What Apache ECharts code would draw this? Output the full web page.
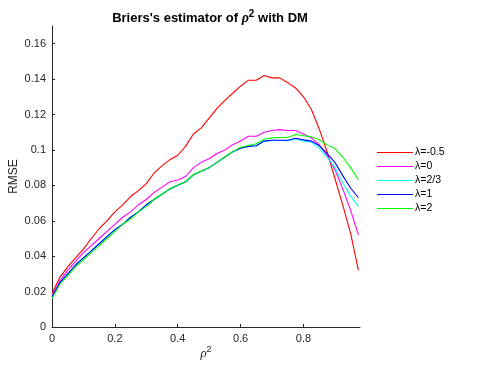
<!DOCTYPE html>
<html>
<head>
<meta charset="utf-8">
<script src="https://cdn.jsdelivr.net/npm/echarts@6/dist/echarts.min.js"></script>
<style>html,body{margin:0;padding:0;background:#fff}#c{width:488px;height:367px}</style>
</head>
<body>
<div id="c"></div>
<script>
var xValues = [0,0.025,0.05,0.075,0.1,0.125,0.15,0.175,0.2,0.225,0.25,0.275,0.3,0.325,0.35,0.375,0.4,0.425,0.45,0.475,0.5,0.525,0.55,0.575,0.6,0.625,0.65,0.675,0.7,0.725,0.75,0.775,0.8,0.825,0.85,0.875,0.9,0.925,0.95,0.975];
var seriesNames = ['λ=-0.5','λ=0','λ=2/3','λ=1','λ=2'];
var seriesColors = ['#ff0000','#ff00ff','#00ffff','#0000ff','#00ff00'];
var redVals = [0.019,0.028,0.034,0.039,0.044,0.050,0.0555,0.060,0.065,0.069,0.0737,0.077,0.081,0.087,0.091,0.0945,0.097,0.102,0.109,0.1125,0.118,0.1235,0.128,0.132,0.136,0.1394,0.1394,0.142,0.1407,0.1407,0.138,0.135,0.130,0.123,0.112,0.099,0.084,0.069,0.053,0.032];
var magentaVals = [0.018,0.026,0.032,0.037,0.042,0.046,0.050,0.054,0.058,0.062,0.065,0.069,0.072,0.076,0.079,0.082,0.083,0.085,0.090,0.093,0.095,0.098,0.100,0.103,0.105,0.1077,0.1077,0.110,0.111,0.1115,0.111,0.111,0.109,0.1068,0.103,0.097,0.089,0.078,0.066,0.052];
var cyanVals = [0.017,0.025,0.030,0.035,0.039,0.043,0.047,0.051,0.055,0.058,0.062,0.065,0.069,0.072,0.075,0.078,0.080,0.082,0.086,0.088,0.090,0.093,0.096,0.099,0.101,0.102,0.1024,0.105,0.1053,0.1053,0.1052,0.1062,0.105,0.1045,0.101,0.096,0.090,0.0815,0.074,0.068];
var blueVals = [0.017,0.025,0.030,0.035,0.039,0.043,0.047,0.051,0.055,0.058,0.062,0.065,0.069,0.072,0.075,0.078,0.080,0.082,0.086,0.088,0.090,0.093,0.096,0.099,0.101,0.102,0.1024,0.105,0.1055,0.1055,0.1055,0.1066,0.1057,0.105,0.1025,0.098,0.093,0.0855,0.0785,0.073];
var greenVals = [0.016,0.024,0.029,0.034,0.038,0.042,0.046,0.050,0.054,0.058,0.061,0.065,0.068,0.072,0.075,0.078,0.080,0.082,0.086,0.088,0.090,0.093,0.096,0.099,0.1015,0.1025,0.1035,0.106,0.1068,0.107,0.107,0.1087,0.108,0.1075,0.1058,0.103,0.1008,0.096,0.090,0.0832];
var xTicks = [0,0.2,0.4,0.6,0.8];
var yTicks = [0,0.02,0.04,0.06,0.08,0.1,0.12,0.14,0.16];

var allVals = [redVals, magentaVals, cyanVals, blueVals, greenVals];
function fmt(v){ return String(Math.round(v*1000)/1000); }
var series = seriesNames.map(function(n,i){
  return {
    name: n, type: 'line', showSymbol: false, symbol: 'none',
    data: xValues.map(function(x,j){ return [x, allVals[i][j]]; }),
    lineStyle: {color: seriesColors[i], width: 1.1},
    itemStyle: {color: seriesColors[i]},
    animation: false
  };
});
var axisCommon = {
  axisLine: {show: true, lineStyle: {color: '#262626', width: 1}},
  axisTick: {show: true, inside: true, length: 3, lineStyle: {color: '#262626'}},
  splitLine: {show: false},
  axisLabel: {color: '#262626', fontFamily: 'Liberation Sans, Arial', fontSize: 11, formatter: fmt}
};
var chart = echarts.init(document.getElementById('c'), null, {renderer: 'canvas'});
chart.setOption({
  backgroundColor: '#ffffff',
  animation: false,
  title: {
    text: "{b|Briers's estimator of }{r|ρ}{s|2}{b| with DM}",
    left: 205, top: 4, textAlign: 'center',
    textStyle: {
      rich: {
        b: {fontFamily: 'Liberation Sans, Arial', fontWeight: 'bold', fontSize: 13, color: '#000'},
        r: {fontFamily: 'Liberation Serif, Times New Roman', fontStyle: 'italic', fontSize: 14, color: '#000'},
        s: {fontFamily: 'Liberation Sans, Arial', fontWeight: 'bold', fontSize: 10, color: '#000', verticalAlign: 'top', padding: [0,0,9,0]}
      }
    }
  },
  legend: {
    orient: 'vertical', left: 372, top: 142, itemGap: 3,
    itemWidth: 36, itemHeight: 10, icon: 'path://M0,5L36,5L36,6L0,6Z',
    textStyle: {fontFamily: 'Liberation Sans, Arial', fontSize: 10.5, color: '#000', padding: [0,0,0,-3]},
    data: seriesNames
  },
  grid: {left: 52, right: 128, top: 26, bottom: 40, containLabel: false, outerBoundsMode: 'none'},
  xAxis: Object.assign({}, axisCommon, {
    type: 'value', min: 0, max: 0.98,
    name: '{r|ρ}{s|2}', nameLocation: 'middle', nameGap: 18, nameMoveOverlap: false,
    nameTextStyle: {rich: {
      r: {fontFamily: 'Liberation Serif, Times New Roman', fontStyle: 'italic', fontSize: 13, color: '#262626'},
      s: {fontFamily: 'Liberation Sans, Arial', fontSize: 9, color: '#262626', padding: [0,0,9,0]}
    }},
    axisTick: Object.assign({}, axisCommon.axisTick, {customValues: xTicks}),
    axisLabel: Object.assign({}, axisCommon.axisLabel, {customValues: xTicks, margin: 6})
  }),
  yAxis: Object.assign({}, axisCommon, {
    type: 'value', min: 0, max: 0.17,
    name: 'RMSE', nameLocation: 'middle', nameGap: 32, nameRotate: 90, nameMoveOverlap: false,
    nameTextStyle: {fontFamily: 'Liberation Sans, Arial', fontSize: 12, color: '#262626'},
    axisTick: Object.assign({}, axisCommon.axisTick, {customValues: yTicks}),
    axisLabel: Object.assign({}, axisCommon.axisLabel, {customValues: yTicks, margin: 6})
  }),
  series: series
});
</script>
</body>
</html>
